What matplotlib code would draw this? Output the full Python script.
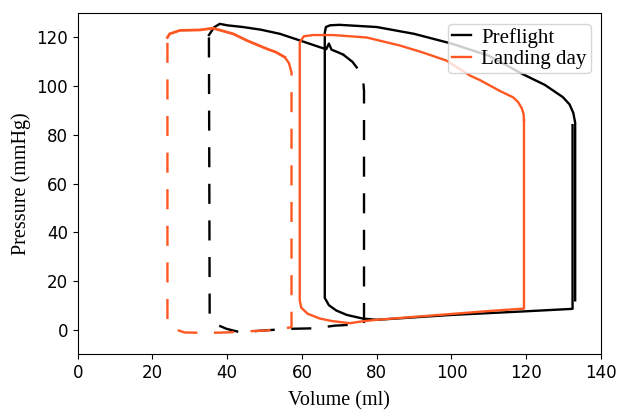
import matplotlib
matplotlib.use("Agg")
import matplotlib.pyplot as plt

BLACK = "#000000"
ORANGE = "#FF5722"

# Preflight, solid loop (volume ml, pressure mmHg)
pre_v = [132.4, 132.4, 120, 100, 80, 76.3, 72, 69.2, 67.2, 66.1, 66.1, 66.4, 67.5, 70, 80, 90,
         100, 110, 119, 125, 129.8, 131.6, 132.6, 133.1, 133.1]
pre_p = [84, 8.5, 7.5, 6.0, 4.0, 4.5, 6.0, 7.8, 10, 13, 122, 124.3, 125, 125.2, 124.3, 121.5,
         117.5, 112.5, 105, 100.5, 95.5, 92.5, 89, 85, 12]

# Landing day, solid loop
land_v = [119.4, 119.4, 110, 100, 90, 80, 76.3, 72.8, 68, 64.8, 61.5, 59.8, 59.4, 59.4, 60.5,
          63, 68.3, 77.3, 86.2, 92, 98.7, 104.9, 107.6, 113, 116.5, 117.8, 118.8, 119.3, 119.4]
land_p = [86, 8.6, 7.6, 6.4, 5.2, 4.0, 3.4, 2.6, 3.5, 4.5, 6.5, 9, 12, 118, 120.5,
          121, 121, 120, 116.7, 114, 110.5, 104.4, 102.5, 98, 95.4, 93.5, 91, 88.5, 86]

# Preflight, dashed loop: noisy top part and the rest
pre_top_v = [35.1, 36.5, 38, 40, 44.2, 49, 54.1, 59.4, 64.8, 66.5, 67.2, 67.9, 69.5, 71]
pre_top_p = [121, 124.2, 125.6, 125, 124.3, 123.2, 121.5, 118.8, 116, 115.2, 117.5, 115, 114, 113]
pre_dash_v = [71, 73.5, 75.5, 76.4, 76.6, 76.6, 73.6, 68.8, 63.4, 56.7, 53.6, 49.6, 43.4,
              39.8, 37.2, 35.8, 35.3, 35.1]
pre_dash_p = [113, 110, 106, 102, 98, 2.6, 2.0, 1.6, 0.5, 0.3, 0.0, -0.4, -1.1,
              0.3, 2.0, 3.8, 5.5, 121]

# Landing day, dashed loop
land_top_v = [24.0, 24.6, 27.3, 32.7, 36.2, 41.6, 45.2, 50.5, 53, 55.4]
land_top_p = [120, 121.5, 122.9, 123.1, 123.8, 121.5, 118.8, 115.4, 114, 111.9]
land_dash_v = [55.4, 56.5, 57.2, 57.2, 56.7, 54, 50.5, 44.2, 39.8, 34.4, 28.6, 26.2, 24.6,
               24.0, 24.0]
land_dash_p = [111.9, 109.5, 105.7, 1.0, 0.8, 0.3, -0.4, -0.8, -1.2, -1.4, -1.2, 0.0, 1.6,
               3.0, 120]

LW = 1.7
DASH = (8.5, 7)

fig, ax = plt.subplots(figsize=(6.17, 4.11), dpi=100)
fig.subplots_adjust(left=0.126, right=0.974, bottom=0.139, top=0.968)

ax.plot(pre_v, pre_p, color=BLACK, lw=LW, label="Preflight")
ax.plot(pre_top_v, pre_top_p, color=BLACK, lw=LW)
ax.plot(pre_dash_v, pre_dash_p, color=BLACK, lw=LW, dashes=DASH)
ax.plot(land_v, land_p, color=ORANGE, lw=LW, label="Landing day")
ax.plot(land_top_v, land_top_p, color=ORANGE, lw=2.0)
ax.plot(land_dash_v, land_dash_p, color=ORANGE, lw=LW, dashes=DASH)

ax.set_xlim(0, 140)
ax.set_ylim(-10, 130)
ax.set_xticks(range(0, 141, 20))
ax.set_yticks(range(0, 121, 20))
ax.tick_params(labelsize=12)

serif = ["Liberation Serif", "DejaVu Serif"]
ax.set_xlabel("Volume (ml)", family=serif, fontsize=14.5, labelpad=7)
ax.set_ylabel("Pressure (mmHg)", family=serif, fontsize=14.5)
ax.legend(loc="upper right", prop={"family": serif, "size": 15},
          handlelength=0.9, handletextpad=0.5, borderpad=0.2, labelspacing=0.1)

plt.savefig("out.png", dpi=100)
